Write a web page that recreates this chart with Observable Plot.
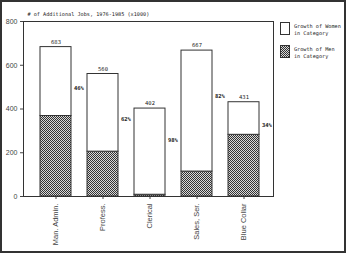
<!DOCTYPE html>
<html><head><meta charset="utf-8">
<script src="https://cdn.jsdelivr.net/npm/d3@7"></script>
<script src="https://cdn.jsdelivr.net/npm/@observablehq/plot@0.6"></script>
<style>
html,body{margin:0;padding:0;background:#fff;}
#wrap{position:relative;width:346px;height:253px;overflow:hidden;font-family:"DejaVu Sans Mono",monospace;}
#border{position:absolute;left:0;top:0;width:346px;height:253px;box-sizing:border-box;border:2px solid #333;pointer-events:none;}
.lg{position:absolute;font-size:5.2px;line-height:6.5px;color:#222;}
.sw{position:absolute;width:10px;height:13px;border:1px solid #333;box-sizing:border-box;}
#wrap svg g[aria-label^="x-axis"] text{font-size:7.5px;}
</style></head>
<body><div id="wrap"></div>
<script>
const categories = ["Man. Admin.", "Profess.", "Clerical", "Sales, Ser.", "Blue Collar"];
const totals = [683, 560, 402, 667, 431];
const men = [368, 205, 8, 114, 282];
const womenPct = ["46%", "62%", "98%", "82%", "34%"];
const pctLabelAt = [495, 355, 259, 459, 327];
const yTicks = [0, 200, 400, 600, 800];
const title = "# of Additional Jobs, 1976-1985 (x1000)";
const legendLabels = ["Growth of Women\nin Category", "Growth of Men\nin Category"];

const rows = [];
categories.forEach((c, i) => {
  rows.push({cat: c, grp: "Men", y1: 0, y2: men[i]});
  rows.push({cat: c, grp: "Women", y1: men[i], y2: totals[i]});
});
const tops = categories.map((c, i) => ({cat: c, total: totals[i], pct: womenPct[i], py: pctLabelAt[i]}));

const chart = Plot.plot({
  width: 346, height: 253,
  marginLeft: 23, marginRight: 73, marginTop: 21, marginBottom: 57,
  style: {fontFamily: "Liberation Sans, Arial, sans-serif", fontSize: "7px", background: "transparent", color: "#444"},
  x: {domain: categories, range: [23, 276], paddingInner: 0.34, paddingOuter: 0.36, label: null, tickRotate: -90, tickSize: 3, tickPadding: 4},
  y: {domain: [0, 800], ticks: yTicks, label: null, tickSize: 3, tickPadding: 3, tickFormat: d => String(d)},
  marks: [
    Plot.frame({stroke: "#333", strokeWidth: 1}),
    Plot.rectY(rows, {x: "cat", y1: "y1", y2: "y2", fill: d => d.grp === "Men" ? "url(#checker)" : "white", stroke: "#333", strokeWidth: 1}),
    Plot.text(tops, {x: "cat", y: "total", text: d => String(d.total), dy: -5, fontSize: 5.5, fontFamily: "DejaVu Sans Mono, monospace", fill: "#222"}),
    Plot.text(tops, {x: "cat", y: "py", text: "pct", dx: 18, textAnchor: "start", fontSize: 5.5, fontWeight: "bold", fontFamily: "DejaVu Sans Mono, monospace", fill: "#222"}),
    Plot.text([title], {frameAnchor: "top-left", dx: 4, dy: -9, fontSize: 5.2, fontFamily: "DejaVu Sans Mono, monospace", fill: "#222"})
  ]
});

// checker pattern definition
const ns = "http://www.w3.org/2000/svg";
const defs = document.createElementNS(ns, "defs");
const pat = document.createElementNS(ns, "pattern");
pat.setAttribute("id", "checker");
pat.setAttribute("width", "2"); pat.setAttribute("height", "2");
pat.setAttribute("patternUnits", "userSpaceOnUse");
const bg = document.createElementNS(ns, "rect");
bg.setAttribute("width", "2"); bg.setAttribute("height", "2"); bg.setAttribute("fill", "#d8d8d8");
pat.appendChild(bg);
[[0,0],[1,1]].forEach(([x,y]) => {
  const r = document.createElementNS(ns, "rect");
  r.setAttribute("x", x); r.setAttribute("y", y);
  r.setAttribute("width", "1"); r.setAttribute("height", "1");
  r.setAttribute("fill", "#333");
  pat.appendChild(r);
});
defs.appendChild(pat);
chart.insertBefore(defs, chart.firstChild);
chart.style.position = "absolute"; chart.style.left = "0"; chart.style.top = "0";

const wrap = document.getElementById("wrap");
wrap.appendChild(chart);

// legend
legendLabels.forEach((lab, i) => {
  const sw = document.createElement("div");
  sw.className = "sw";
  sw.style.left = "280px"; sw.style.top = (22 + i * 23) + "px";
  if (i === 0) sw.style.background = "#fff";
  else {
    sw.style.backgroundColor = "#d8d8d8";
    sw.style.backgroundImage = "repeating-conic-gradient(#333 0 25%, #d8d8d8 0 50%)";
    sw.style.backgroundSize = "2px 2px";
  }
  wrap.appendChild(sw);
  const t = document.createElement("div");
  t.className = "lg";
  t.style.left = "294px"; t.style.top = (23 + i * 23) + "px";
  t.innerHTML = lab.split("\n").join("<br>");
  wrap.appendChild(t);
});
const b = document.createElement("div"); b.id = "border"; wrap.appendChild(b);
</script></body></html>
